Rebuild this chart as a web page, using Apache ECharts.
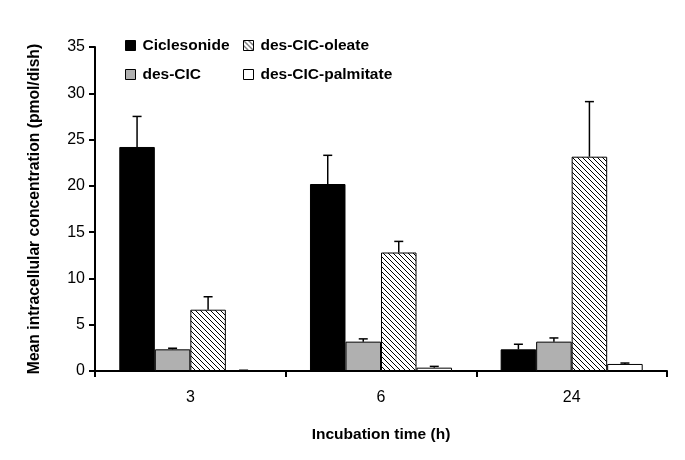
<!DOCTYPE html>
<html>
<head>
<meta charset="utf-8">
<script src="https://cdn.jsdelivr.net/npm/echarts@6/dist/echarts.min.js"></script>
<style>
html,body{margin:0;padding:0;background:#fff;}
#chart{width:685px;height:460px;}
</style>
</head>
<body>
<div id="chart"></div>
<script>
const categories = ['3', '6', '24'];
const seriesNames = ['Ciclesonide', 'des-CIC', 'des-CIC-oleate', 'des-CIC-palmitate'];
const ciclesonide = [24.2, 20.2, 2.34];
const ciclesonideErr = [3.3, 3.1, 0.55];
const desCIC = [2.34, 3.17, 3.17];
const desCICErr = [0.12, 0.3, 0.4];
const oleate = [6.62, 12.8, 23.15];
const oleateErr = [1.4, 1.2, 5.95];
const palmitate = [0.08, 0.36, 0.76];
const palmitateErr = [0.0, 0.14, 0.1];
const yTicks = [0, 5, 10, 15, 20, 25, 30, 35];

const values = [ciclesonide, desCIC, oleate, palmitate];
const errors = [ciclesonideErr, desCICErr, oleateErr, palmitateErr];

// hatch pattern
const tile = document.createElement('canvas');
tile.width = 5; tile.height = 5;
const tc = tile.getContext('2d');
tc.fillStyle = '#fff';
tc.fillRect(0, 0, 5, 5);
tc.strokeStyle = '#000';
tc.lineWidth = 1;
tc.beginPath();
tc.moveTo(0, 0); tc.lineTo(5, 5);
tc.moveTo(-1, 4); tc.lineTo(1, 6);
tc.moveTo(4, -1); tc.lineTo(6, 1);
tc.stroke();
const hatch = { image: tile, repeat: 'repeat' };

const fills = ['#000000', '#b0b0b0', hatch, '#ffffff'];
const GAP = 0.255;

const errData = [];
values.forEach((arr, s) => {
  arr.forEach((v, i) => {
    errData.push([i, v, v + errors[s][i], s]);
  });
});

const chart = echarts.init(document.getElementById('chart'));
const font = 'Liberation Sans, Arial, sans-serif';

const barSeries = seriesNames.map((name, s) => ({
  name: name,
  type: 'bar',
  data: values[s],
  barCategoryGap: (GAP * 100) + '%',
  barGap: '0%',
  itemStyle: { color: fills[s], borderColor: '#000', borderWidth: 1 },
  z: 2
}));

const legendText = { fontFamily: font, fontSize: 15.5, fontWeight: 'bold', color: '#000', lineHeight: 15, padding: [0, 0, 0, 2] };

chart.setOption({
  animation: false,
  backgroundColor: '#fff',
  textStyle: { fontFamily: font },
  grid: { left: 95, right: 18, top: 47, bottom: 89, containLabel: false },
  legend: [
    {
      data: ['Ciclesonide', 'des-CIC'],
      orient: 'vertical', left: 125, top: 37.5, padding: 0,
      icon: 'rect',
      itemWidth: 10, itemHeight: 10, itemGap: 13,
      textStyle: legendText,
      itemStyle: { borderColor: '#000', borderWidth: 1 }
    },
    {
      data: ['des-CIC-oleate', 'des-CIC-palmitate'],
      orient: 'vertical', left: 243, top: 37.5, padding: 0,
      icon: 'rect',
      itemWidth: 10, itemHeight: 10, itemGap: 13,
      textStyle: legendText,
      itemStyle: { borderColor: '#000', borderWidth: 1 }
    }
  ],
  xAxis: {
    type: 'category',
    data: categories,
    name: 'Incubation time (h)',
    nameLocation: 'middle',
    nameGap: 56,
    nameTextStyle: { fontFamily: font, fontSize: 15.5, fontWeight: 'bold', color: '#000' },
    axisLine: { lineStyle: { color: '#000', width: 2 } },
    axisTick: { show: true, inside: false, length: 6, lineStyle: { color: '#000', width: 2 } },
    axisLabel: { fontFamily: font, fontSize: 16, color: '#000', margin: 19 },
    splitLine: { show: false }
  },
  yAxis: {
    type: 'value',
    min: yTicks[0],
    max: yTicks[yTicks.length - 1],
    interval: yTicks[1] - yTicks[0],
    name: 'Mean intracellular concentration (pmol/dish)',
    nameLocation: 'middle',
    nameGap: 52,
    nameTextStyle: { fontFamily: font, fontSize: 15.7, fontWeight: 'bold', color: '#000' },
    axisLine: { show: true, lineStyle: { color: '#000', width: 2 } },
    axisTick: { show: true, inside: false, length: 6, lineStyle: { color: '#000', width: 2 } },
    axisLabel: { fontFamily: font, fontSize: 16, color: '#000', margin: 10 },
    splitLine: { show: false }
  },
  series: barSeries.concat([{
    type: 'custom',
    name: 'err',
    data: errData,
    z: 1,
    encode: { x: 0, y: [1, 2] },
    renderItem: function (params, api) {
      const ci = api.value(0);
      const s = api.value(3);
      const band = api.size([1, 0])[0];
      const bw = band * (1 - GAP) / 4;
      const c0 = api.coord([ci, api.value(1)]);
      const c1 = api.coord([ci, api.value(2)]);
      const x = c0[0] + (s - 1.5) * bw;
      const half = 4.5;
      const st = { stroke: '#000', lineWidth: 1.5 };
      return {
        type: 'group',
        children: [
          { type: 'line', shape: { x1: x, y1: c0[1], x2: x, y2: c1[1] }, style: st },
          { type: 'line', shape: { x1: x - half, y1: c1[1], x2: x + half, y2: c1[1] }, style: st }
        ]
      };
    }
  }])
});
</script>
</body>
</html>
